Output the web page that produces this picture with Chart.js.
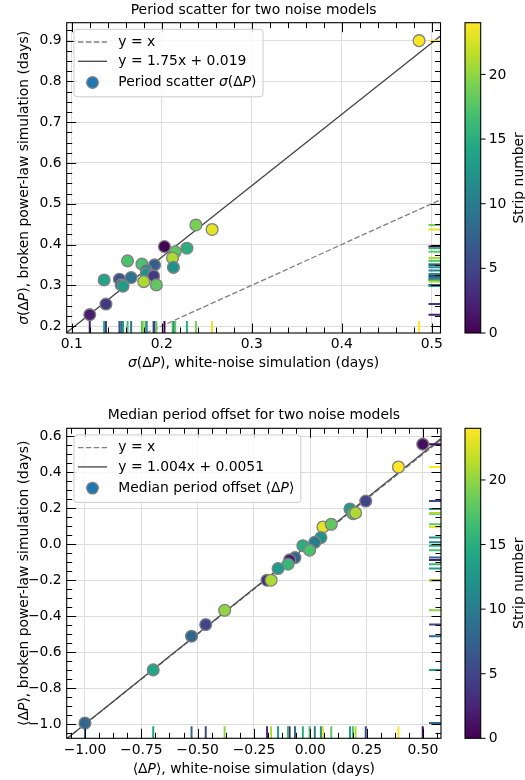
<!DOCTYPE html>
<html>
<head>
<meta charset="utf-8">
<script src="https://cdn.jsdelivr.net/npm/chart.js@4.4.0/dist/chart.umd.min.js"></script>
<style>
  html, body { margin: 0; padding: 0; background: #fff; }
  canvas { display: block; }
</style>
</head>
<body>
<canvas id="topChart" width="525" height="390"></canvas>
<canvas id="bottomChart" width="525" height="390"></canvas>
<script>
// colour scale
const stripMax = 24;
const cbarTicks = [0, 5, 10, 15, 20];

// top panel: period scatter sigma(dP)
const sigWhite  = [0.486, 0.238, 0.256, 0.203, 0.215, 0.228, 0.212, 0.213, 0.162, 0.178, 0.192, 0.183,
                   0.183, 0.191, 0.166, 0.153, 0.136, 0.180, 0.194, 0.155, 0.157, 0.138, 0.120];
const sigBroken = [0.900, 0.448, 0.437, 0.395, 0.382, 0.391, 0.367, 0.344, 0.360, 0.352, 0.350, 0.336,
                   0.328, 0.323, 0.319, 0.315, 0.313, 0.309, 0.301, 0.301, 0.298, 0.254, 0.228];
const sigStrip  = [24, 19, 23, 0, 18, 15, 21, 12, 17, 17, 7, 11, 12, 4, 9, 6, 14, 21, 18, 8, 13, 4, 2];
const sigSlope = 1.75, sigIntercept = 0.019;
const sigXTicks = [0.1, 0.2, 0.3, 0.4, 0.5];
const sigYTicks = [0.2, 0.3, 0.4, 0.5, 0.6, 0.7, 0.8, 0.9];

// bottom panel: median period offset <dP>
const medWhite  = [0.499, 0.391, 0.246, 0.176, 0.189, 0.201, 0.056, 0.093, 0.047, 0.020, -0.033, -0.003,
                   -0.068, -0.092, -0.099, -0.143, -0.192, -0.174, -0.380, -0.464, -0.527, -0.697, -1.000];
const medBroken = [0.556, 0.429, 0.240, 0.196, 0.170, 0.174, 0.096, 0.111, 0.037, 0.011, -0.008, -0.033,
                   -0.074, -0.087, -0.111, -0.135, -0.200, -0.200, -0.367, -0.446, -0.511, -0.698, -0.993];
const medStrip  = [1, 24, 5, 13, 17, 21, 23, 18, 12, 10, 15, 17, 8, 2, 16, 13, 3, 21, 20, 5, 8, 14, 8];
const medSlope = 1.004, medIntercept = 0.0051;
const medXTicks = [-1.0, -0.75, -0.5, -0.25, 0, 0.25, 0.5];
const medYTicks = [-1.0, -0.8, -0.6, -0.4, -0.2, 0, 0.2, 0.4, 0.6];

const FONT = '"DejaVu Sans", sans-serif';
const FS = 13.9;

const VIR = ['#440154', '#482475', '#414487', '#355f8d', '#2a788e', '#21918c',
             '#22a884', '#44bf70', '#7ad151', '#bddf26', '#fde725'];
function hexRgb(h) {
    return [1, 3, 5].map(i => parseInt(h.slice(i, i + 2), 16));
}
function viridis(t) {
    t = Math.max(0, Math.min(1, t));
    const f = t * 10;
    const i = Math.min(9, Math.floor(f));
    const r = f - i;
    const a = hexRgb(VIR[i]), b = hexRgb(VIR[i + 1]);
    const c = a.map((v, k) => Math.round(v + (b[k] - v) * r));
    return `rgb(${c[0]},${c[1]},${c[2]})`;
}
const stripColor = s => viridis(s / stripMax);
const fmt = (v, dec) => v.toFixed(dec).replace('-', '\u2212');

function minorTicks(min, max, step) {
    const out = [];
    for (let v = Math.ceil(min / step) * step; v <= max + 1e-9; v += step) out.push(v);
    return out;
}

// draw text made of upright / italic pieces
function richText(ctx, parts, x, y, rotate) {
    const fonts = parts.map(p => (p[1] ? 'italic ' : '') + FS + 'px ' + FONT);
    let total = 0;
    const widths = parts.map((p, i) => { ctx.font = fonts[i]; const w = ctx.measureText(p[0]).width; total += w; return w; });
    ctx.save();
    ctx.translate(x, y);
    if (rotate) ctx.rotate(-Math.PI / 2);
    ctx.fillStyle = '#000';
    ctx.textBaseline = 'middle';
    ctx.textAlign = 'left';
    let cx = -total / 2;
    parts.forEach((p, i) => { ctx.font = fonts[i]; ctx.fillText(p[0], cx, 0); cx += widths[i]; });
    ctx.restore();
    return total;
}
function richWidth(ctx, parts) {
    let total = 0;
    parts.forEach(p => { ctx.font = (p[1] ? 'italic ' : '') + FS + 'px ' + FONT; total += ctx.measureText(p[0]).width; });
    return total;
}

function decoPlugin(p) {
    return {
        id: 'deco',
        afterDatasetsDraw(chart) {
            const { ctx, chartArea: a, scales: { x, y } } = chart;
            ctx.save();
            ctx.beginPath();
            ctx.rect(a.left, a.top, a.right - a.left, a.bottom - a.top);
            ctx.clip();
            ctx.lineWidth = 2;
            p.xs.forEach((v, i) => {
                ctx.strokeStyle = stripColor(p.strip[i]);
                const px = x.getPixelForValue(v);
                ctx.beginPath(); ctx.moveTo(px, a.bottom); ctx.lineTo(px, a.bottom - 12); ctx.stroke();
                const py = y.getPixelForValue(p.ys[i]);
                ctx.beginPath(); ctx.moveTo(a.right, py); ctx.lineTo(a.right - 12, py); ctx.stroke();
            });
            ctx.restore();
        },
        afterDraw(chart) {
            const { ctx, chartArea: a, scales: { x, y } } = chart;
            ctx.save();
            // inward ticks on all sides
            ctx.strokeStyle = '#000';
            ctx.lineWidth = 1;
            const drawX = (vals, len) => vals.forEach(v => {
                const px = Math.round(x.getPixelForValue(v)) + 0.5;
                if (px < a.left - 0.5 || px > a.right + 0.5) return;
                ctx.beginPath();
                ctx.moveTo(px, a.bottom); ctx.lineTo(px, a.bottom - len);
                ctx.moveTo(px, a.top); ctx.lineTo(px, a.top + len);
                ctx.stroke();
            });
            const drawY = (vals, len) => vals.forEach(v => {
                const py = Math.round(y.getPixelForValue(v)) + 0.5;
                if (py < a.top - 0.5 || py > a.bottom + 0.5) return;
                ctx.beginPath();
                ctx.moveTo(a.left, py); ctx.lineTo(a.left + len, py);
                ctx.moveTo(a.right, py); ctx.lineTo(a.right - len, py);
                ctx.stroke();
            });
            drawX(minorTicks(x.min, x.max, p.xMinor), 5.5);
            drawY(minorTicks(y.min, y.max, p.yMinor), 5.5);
            drawX(p.xTicks, 9.5);
            drawY(p.yTicks, 9.5);
            ctx.lineWidth = 1.1;
            ctx.strokeRect(a.left, a.top, a.right - a.left, a.bottom - a.top);

            // legend
            const bx = a.left + 7.3, by = a.top + 6.6;
            const tx = bx + 44.3;
            const rows = [
                { kind: 'dash', parts: [['y = x', 0]] },
                { kind: 'line', parts: [[p.fitLabel, 0]] },
                { kind: 'dot', parts: p.legendParts }
            ];
            const maxW = Math.max(...rows.map(r => richWidth(ctx, r.parts)));
            const bw = tx - bx + maxW + 6.5, bh = 67.5;
            ctx.beginPath();
            ctx.roundRect(bx, by, bw, bh, 3);
            ctx.fillStyle = 'rgba(255,255,255,0.8)';
            ctx.fill();
            ctx.strokeStyle = '#cccccc';
            ctx.lineWidth = 1;
            ctx.stroke();
            const rowY = [12.7, 32, 53.2];
            rows.forEach((r, i) => {
                const ry = by + rowY[i];
                if (r.kind === 'dot') {
                    ctx.beginPath();
                    ctx.arc(bx + 18.5, ry, 5.8, 0, Math.PI * 2);
                    ctx.fillStyle = '#1f77b4';
                    ctx.fill();
                    ctx.strokeStyle = '#808080';
                    ctx.lineWidth = 1.3;
                    ctx.stroke();
                } else {
                    ctx.beginPath();
                    ctx.setLineDash(r.kind === 'dash' ? [5.5, 2.4] : []);
                    ctx.strokeStyle = r.kind === 'dash' ? '#808080' : '#444444';
                    ctx.lineWidth = 1.3;
                    ctx.moveTo(bx + 4, ry); ctx.lineTo(bx + 33, ry);
                    ctx.stroke();
                    ctx.setLineDash([]);
                }
                const w = richWidth(ctx, r.parts);
                richText(ctx, r.parts, tx + w / 2, ry, false);
            });

            // titles
            richText(ctx, [[p.title, 0]], (a.left + a.right) / 2, p.titleY, false);
            richText(ctx, p.xLabel, (a.left + a.right) / 2, p.xLabelY, false);
            richText(ctx, p.yLabel, 24.5, (a.top + a.bottom) / 2, true);

            // colour bar
            const cx0 = 465, cw = 15.7;
            const grad = ctx.createLinearGradient(0, a.bottom, 0, a.top);
            VIR.forEach((c, i) => grad.addColorStop(i / 10, c));
            ctx.fillStyle = grad;
            ctx.fillRect(cx0, a.top, cw, a.bottom - a.top);
            ctx.strokeStyle = '#000';
            ctx.lineWidth = 1.1;
            ctx.strokeRect(cx0, a.top, cw, a.bottom - a.top);
            ctx.lineWidth = 1;
            ctx.font = FS + 'px ' + FONT;
            ctx.fillStyle = '#000';
            ctx.textAlign = 'left';
            ctx.textBaseline = 'middle';
            cbarTicks.forEach(t => {
                const ty = a.bottom - t / stripMax * (a.bottom - a.top);
                ctx.beginPath(); ctx.moveTo(cx0 + cw, ty); ctx.lineTo(cx0 + cw + 4.9, ty); ctx.stroke();
                ctx.fillText(String(t), cx0 + cw + 8, ty + 0.5);
            });
            richText(ctx, [['Strip number', 0]], 519, (a.top + a.bottom) / 2, true);
            ctx.restore();
        }
    };
}

function makeChart(id, p) {
    const pts = p.xs.map((v, i) => ({ x: v, y: p.ys[i] }));
    const font = { family: FONT, size: FS };
    return new Chart(document.getElementById(id), {
        type: 'scatter',
        data: {
            datasets: [
                {
                    data: pts, order: 0,
                    backgroundColor: p.strip.map(stripColor),
                    borderColor: '#808080', borderWidth: 1.3,
                    pointRadius: 5.9
                },
                {
                    data: [{ x: p.xMin, y: p.xMin }, { x: p.xMax, y: p.xMax }], order: 2,
                    showLine: true, borderColor: '#808080', borderWidth: 1.3,
                    borderDash: [5.5, 2.4], pointRadius: 0
                },
                {
                    data: [{ x: p.xMin, y: p.slope * p.xMin + p.intercept },
                           { x: p.xMax, y: p.slope * p.xMax + p.intercept }], order: 1,
                    showLine: true, borderColor: '#444444', borderWidth: 1.3, pointRadius: 0
                }
            ]
        },
        options: {
            responsive: false,
            animation: false,
            events: [],
            layout: { padding: { left: 0, right: p.padRight, top: p.padTop, bottom: 0 } },
            plugins: { legend: { display: false }, tooltip: { enabled: false } },
            scales: {
                x: {
                    type: 'linear', min: p.xMin, max: p.xMax,
                    afterBuildTicks(s) { s.ticks = p.xTicks.map(v => ({ value: v })); },
                    afterFit(s) { s.height = p.xAxisH; },
                    grid: { color: '#dcdcdc', lineWidth: 1, drawTicks: false },
                    border: { display: false },
                    ticks: { font, color: '#000', padding: 3.3, maxRotation: 0, autoSkip: false,
                             callback: v => fmt(v, p.xDec) }
                },
                y: {
                    type: 'linear', min: p.yMin, max: p.yMax,
                    afterBuildTicks(s) { s.ticks = p.yTicks.map(v => ({ value: v })); },
                    afterFit(s) { s.width = 66.7; },
                    grid: { color: '#dcdcdc', lineWidth: 1, drawTicks: false },
                    border: { display: false },
                    ticks: { font, color: '#000', padding: 5, autoSkip: false,
                             callback: v => fmt(v, 1) }
                }
            }
        },
        plugins: [decoPlugin(p)]
    });
}

makeChart('topChart', {
    xs: sigWhite, ys: sigBroken, strip: sigStrip,
    slope: sigSlope, intercept: sigIntercept,
    xMin: 0.0944, xMax: 0.5098, yMin: 0.183, yMax: 0.944,
    xTicks: sigXTicks, yTicks: sigYTicks, xMinor: 0.02, yMinor: 0.025, xDec: 1,
    padTop: 22.7, padRight: 84.5, xAxisH: 57,
    title: 'Period scatter for two noise models', titleY: 10,
    fitLabel: `y = ${sigSlope}x + ${sigIntercept}`,
    legendParts: [['Period scatter ', 0], ['\u03c3', 1], ['(\u0394', 0], ['P', 1], [')', 0]],
    xLabel: [['\u03c3', 1], ['(\u0394', 0], ['P', 1], ['), white-noise simulation (days)', 0]],
    xLabelY: 363.3,
    yLabel: [['\u03c3', 1], ['(\u0394', 0], ['P', 1], ['), broken power-law simulation (days)', 0]]
});

makeChart('bottomChart', {
    xs: medWhite, ys: medBroken, strip: medStrip,
    slope: medSlope, intercept: medIntercept,
    xMin: -1.081, xMax: 0.580, yMin: -1.078, yMax: 0.644,
    xTicks: medXTicks, yTicks: medYTicks, xMinor: 0.0625, yMinor: 0.05, xDec: 2,
    padTop: 38.3, padRight: 84, xAxisH: 41.7,
    title: 'Median period offset for two noise models', titleY: 25,
    fitLabel: `y = ${medSlope}x + ${medIntercept}`,
    legendParts: [['Median period offset \u27e8\u0394', 0], ['P', 1], ['\u27e9', 0]],
    xLabel: [['\u27e8\u0394', 0], ['P', 1], ['\u27e9, white-noise simulation (days)', 0]],
    xLabelY: 379.3,
    yLabel: [['\u27e8\u0394', 0], ['P', 1], ['\u27e9, broken power-law simulation (days)', 0]]
});
</script>
</body>
</html>
